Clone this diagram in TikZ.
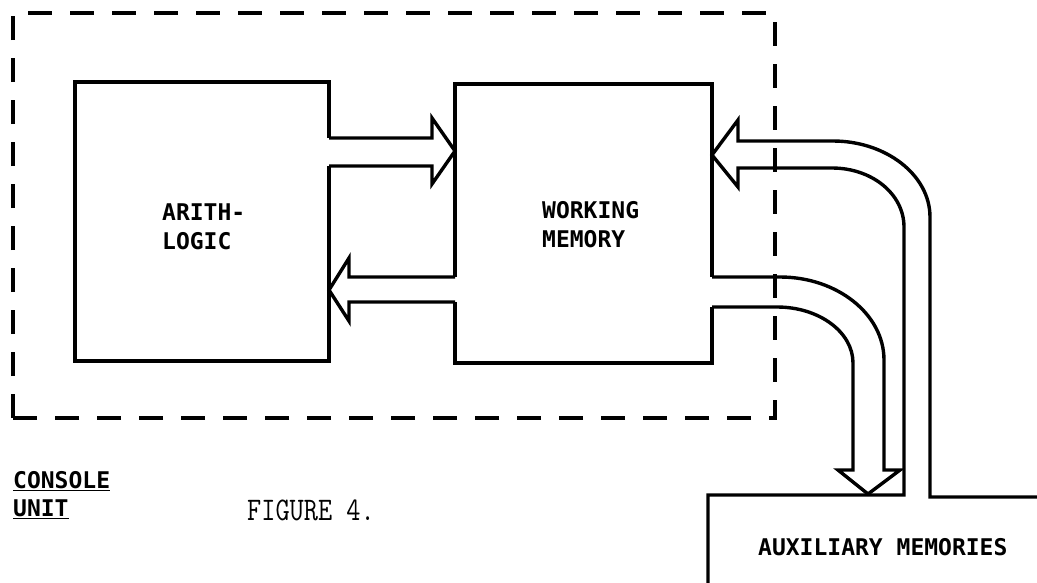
\documentclass[tikz,border=0pt]{standalone}
\usepackage{fontspec}
\setmainfont{Liberation Serif}
\newfontfamily\labelfont{DejaVu Sans Mono}
\begin{document}
\begin{tikzpicture}[x=1pt,y=-1pt,
  outline/.style={line width=3.4pt, line join=miter, line cap=butt},
  dashbox/.style={line width=3.4pt, dash pattern=on 24pt off 18pt},
  lbl/.style={font=\labelfont\bfseries\fontsize{23}{29}\selectfont, inner sep=0pt, align=left},
  figlbl/.style={font=\ttfamily\fontsize{27.5}{27.5}\selectfont, inner sep=0pt}]
\fill[white] (0,0) rectangle (1037,582);
\useasboundingbox (0,0) rectangle (1037,582);

% console unit (dashed)
\draw[dashbox] (13,418) -- (13,13) -- (775,13) -- (775,418) -- cycle;

% box corners
\coordinate (aTL) at (75,82);   \coordinate (aBR) at (329,361);
\coordinate (wTL) at (455,84);  \coordinate (wBR) at (712,363);
\coordinate (xTL) at (708,495);

% ARITH-LOGIC box (gap on right for outgoing arrow)
\draw[outline] (329,138) -- (329,82) -- (aTL) -- (75,361) -- (aBR) -- (329,166);
% arrow arith -> working memory
\draw[outline] (329,138) -- (432,138) -- (432,118) -- (455,151) -- (432,184) -- (432,166) -- (329,166);

% WORKING MEMORY box
\draw[outline] (455,277) -- (wTL) -- (712,84) -- (712,277);
\draw[outline] (712,307) -- (wBR) -- (455,363) -- (455,302);
% arrow working memory -> arith
\draw[outline] (455,277) -- (349,277) -- (349,258) -- (329,290) -- (349,321) -- (349,302) -- (455,302);

% arrow auxiliary -> working memory, and auxiliary box outline
\draw[outline] (1045,497) -- (930,497) -- (930,217)
   .. controls (930,175) and (886,141) .. (833,141) -- (738,141) -- (738,120)
   -- (712,155) -- (738,187) -- (738,168) -- (832,168)
   .. controls (872,168) and (904,194) .. (904,227) -- (904,495) -- (xTL) -- (708,590);

% arrow working memory -> auxiliary
\draw[outline] (712,277) -- (780,277) .. controls (837,277) and (884,314) .. (884,360)
   -- (884,470) -- (900,470) -- (868,494) -- (838,470) -- (853,470) -- (853,363)
   .. controls (853,332) and (819,307) .. (777,307) -- (712,307);

% labels
\node[lbl, anchor=west] (arith) at (162,227) {ARITH-\\LOGIC};
\node[lbl, anchor=west] (wm) at (542,225) {WORKING\\MEMORY};
\node[lbl, anchor=base west] (aux) at (758,555) {AUXILIARY MEMORIES};
\node[lbl, anchor=base west] (console) at (13,488) {\underline{CONSOLE}};
\node[lbl, anchor=base west] (unit) at (13,516) {\underline{UNIT}};
\node[figlbl, anchor=base west] (fig) at (247,520) {\scalebox{1}[1.2]{FIGURE 4.}};
\end{tikzpicture}
\end{document}
